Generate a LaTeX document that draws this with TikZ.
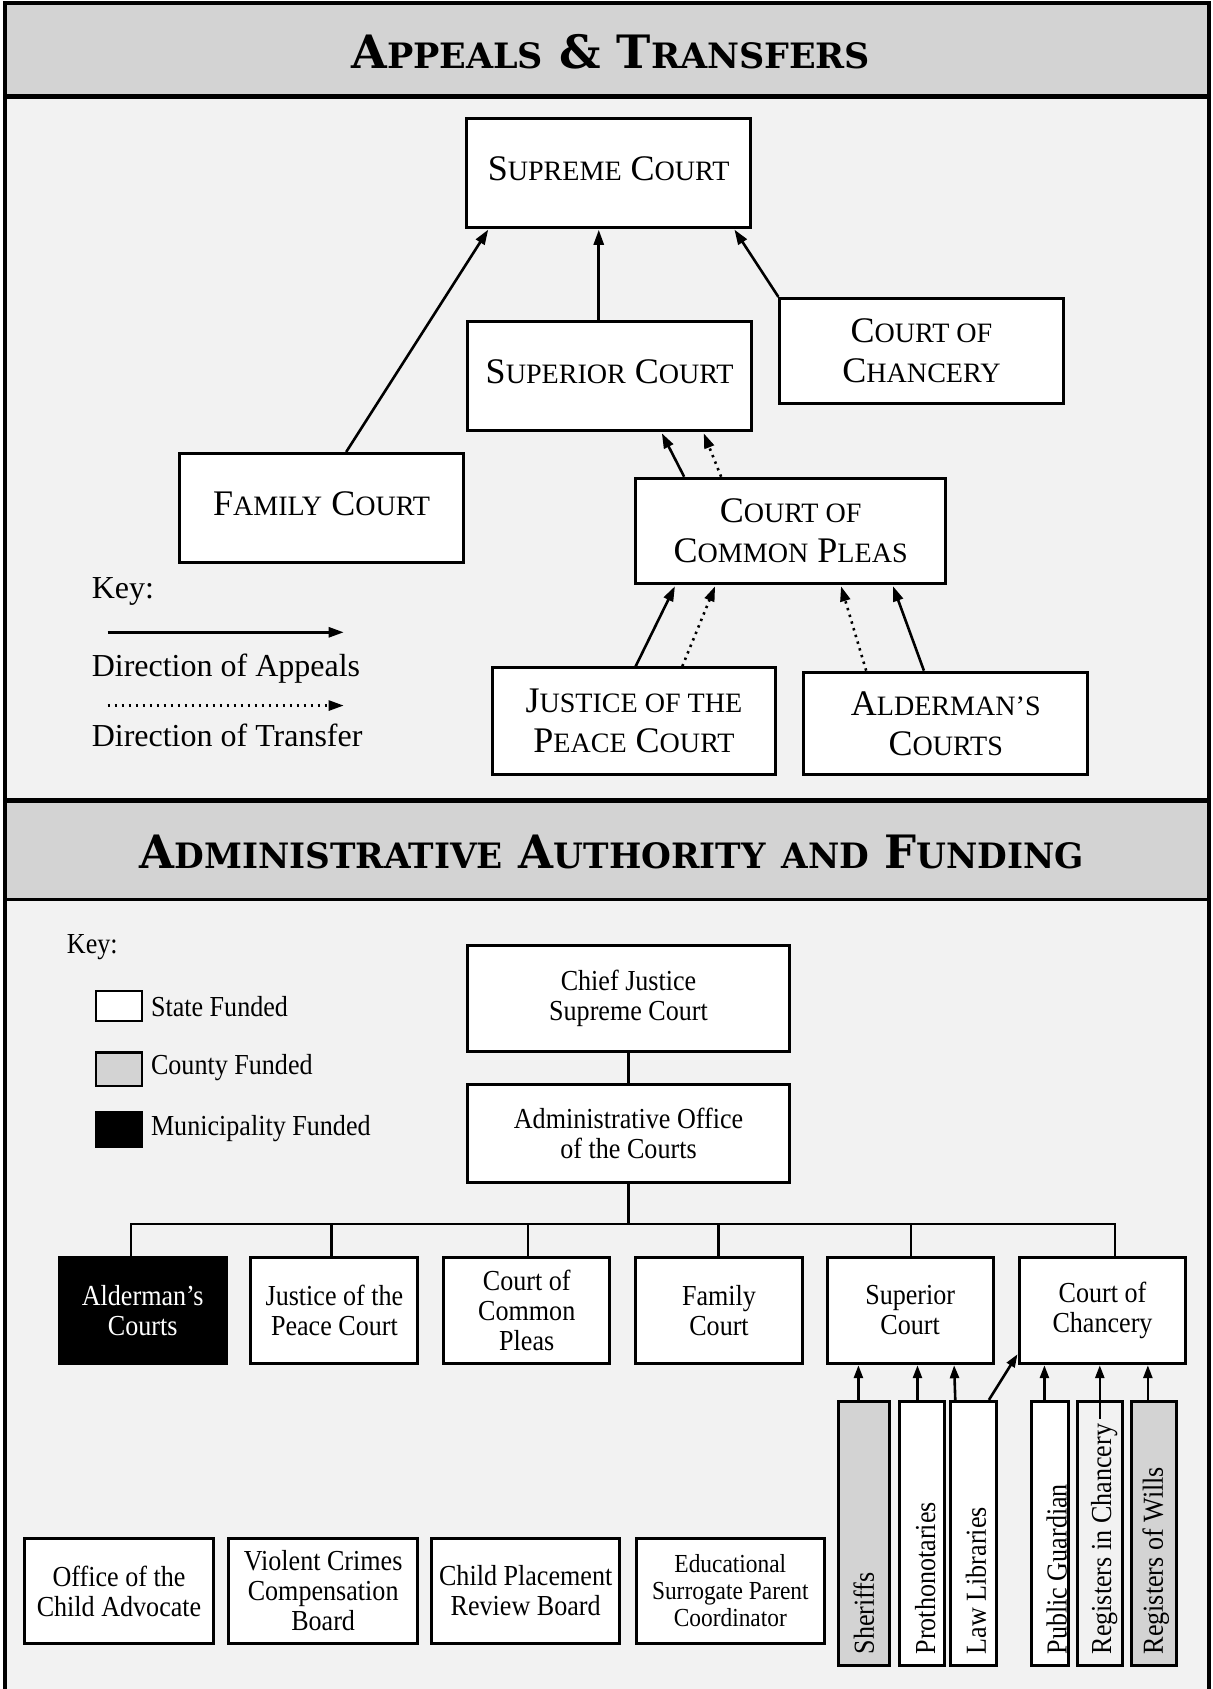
\documentclass[tikz,border=0pt]{standalone}
\usepackage{fontspec}
\usepackage{graphicx}
\setmainfont{Liberation Serif}
\newfontfamily\condfont[FakeStretch=0.9]{Liberation Serif}
\newfontfamily\headfont{DejaVu Serif}
\usetikzlibrary{arrows.meta,calc}
\definecolor{bandgray}{HTML}{D3D3D3}
\definecolor{pagebg}{HTML}{F2F2F2}
\definecolor{countygray}{HTML}{D3D3D3}
\newcommand\smc[1]{\scalebox{0.78}{#1}}
\newcommand\hsc[1]{\scalebox{0.76}{#1}}
\newcommand\lift[1]{\raisebox{8bp}{#1}}
\tikzset{
  spanbox/.style args={#1:#2:#3:#4}{minimum width={((#3)-(#1))*1.0773bp},
    minimum height={((#4)-(#2))*1.0773bp}, at={({((#1)+(#3))/2},{((#2)+(#4))/2})}},
  topbox/.style={draw, line width=3bp, fill=white, inner sep=0pt, align=center,
    font=\fontsize{36bp}{40bp}\selectfont},
  botbox/.style={draw, line width=3bp, fill=white, inner sep=0pt, align=center,
    font=\condfont\fontsize{29bp}{30bp}\selectfont},
  legbox/.style={draw, line width=2.5bp, inner sep=0pt},
  vtext/.style={rotate=90, anchor=west, inner sep=0pt,
    font=\condfont\fontsize{29bp}{30bp}\selectfont},
  keytext/.style={anchor=west, inner sep=0pt, font=\fontsize{32bp}{36bp}\selectfont},
  bkeytext/.style={anchor=west, inner sep=0pt, font=\condfont\fontsize{29bp}{30bp}\selectfont},
  headtext/.style={inner sep=0pt, font=\headfont\bfseries\fontsize{46bp}{50bp}\selectfont},
  appeal/.style={line width=2.6bp, -{Triangle[length=15bp,width=10bp]}, shorten >=1bp},
  transfer/.style={appeal, dash pattern=on 2.4bp off 4.6bp},
  link/.style={line width=2.5bp},
  uparrow/.style={line width=2.6bp, -{Triangle[length=13bp,width=9bp]}},
}
\begin{document}
\begin{tikzpicture}[x=1.0773bp, y=-1.0773bp]
\useasboundingbox (0,0) rectangle (1126,1568);
% backgrounds and frame
\fill[pagebg] (5,3) rectangle (1122,1568);
\fill[bandgray] (5,3) rectangle (1122,90);
\fill[bandgray] (5,743) rectangle (1122,835);
\draw[line width=5bp] (5,90) -- (1122,90);
\draw[line width=5bp] (5,743) -- (1122,743);
\draw[line width=3bp] (5,835) -- (1122,835);
\draw[line width=4bp] (5,1575) -- (5,3) -- (1122,3) -- (1122,1575);

% headings
\node[headtext] (h1) at (567,48) {A\hsc{PPEALS} \& T\hsc{RANSFERS}};
\node[headtext, xscale=0.98] (h2) at (568,791) {A\hsc{DMINISTRATIVE} A\hsc{UTHORITY} \hsc{AND} F\hsc{UNDING}};

% ---------- Appeals & Transfers ----------
\node[topbox, spanbox=433:110:697:211] (sup) {\lift{S\smc{UPREME} C\smc{OURT}}};
\node[topbox, spanbox=434:298:698:400] (supr) {\lift{S\smc{UPERIOR} C\smc{OURT}}};
\node[topbox, spanbox=724:277:987:375] (chan) {C\smc{OURT OF}\\C\smc{HANCERY}};
\node[topbox, spanbox=167:421:430:522] (fam) {\lift{F\smc{AMILY} C\smc{OURT}}};
\node[topbox, spanbox=590:444:878:542] (ccp) {C\smc{OURT OF}\\C\smc{OMMON} P\smc{LEAS}};
\node[topbox, spanbox=457:620:720:719] (jp) {J\smc{USTICE OF THE}\\P\smc{EACE} C\smc{OURT}};
\node[topbox, spanbox=746:624:1010:719] (ald) {A\smc{LDERMAN’S}\\C\smc{OURTS}};

\draw[appeal] ($(fam.north west)!0.586!(fam.north east)$) -- ($(sup.south west)!0.083!(sup.south east)$);
\coordinate (t1) at ($(supr.north west)!0.462!(supr.north east)$);
\draw[appeal] (t1) -- (t1 |- sup.south);
\draw[appeal] (chan.north west) -- ($(sup.south west)!0.936!(sup.south east)$);
\draw[appeal] ($(ccp.north west)!0.16!(ccp.north east)$) -- ($(supr.south west)!0.68!(supr.south east)$);
\draw[transfer] ($(ccp.north west)!0.278!(ccp.north east)$) -- ($(supr.south west)!0.826!(supr.south east)$);
\draw[appeal] ($(jp.north west)!0.506!(jp.north east)$) -- ($(ccp.south west)!0.132!(ccp.south east)$);
\draw[transfer] ($(jp.north west)!0.669!(jp.north east)$) -- ($(ccp.south west)!0.26!(ccp.south east)$);
\draw[transfer] ($(ald.north west)!0.223!(ald.north east)$) -- ($(ccp.south west)!0.66!(ccp.south east)$);
\draw[appeal] ($(ald.north west)!0.424!(ald.north east)$) -- ($(ccp.south west)!0.826!(ccp.south east)$);

% key
\node[keytext] (key1) at (85,549) {Key:};
\coordinate (ka1) at (100,587);
\coordinate (ka2) at (320,587);
\draw[appeal] (ka1) -- (ka2);
\node[keytext] (dapp) at (85,621) {Direction of Appeals};
\coordinate (kt1) at (100,655);
\coordinate (kt2) at (320,655);
\draw[transfer] (kt1) -- (kt2);
\node[keytext] (dtr) at (85,683) {Direction of Transfer};

% ---------- Administrative Authority and Funding ----------
\node[bkeytext] (key2) at (62,879) {Key:};
\node[legbox, fill=white, spanbox=89:920:132:948] (lstate) {};
\node[legbox, fill=countygray, spanbox=89:977:132:1008] (lcounty) {};
\node[legbox, fill=black, spanbox=89:1033:132:1065] (lmuni) {};
\node[bkeytext] (tstate) at (140,934) {State Funded};
\node[bkeytext] (tcounty) at (140,991) {County Funded};
\node[bkeytext] (tmuni) at (140,1048) {Municipality Funded};

\node[botbox, spanbox=434:878:733:976] (cj) {Chief Justice\\Supreme Court};
\node[botbox, spanbox=434:1007:733:1098] (aoc) {Administrative Office\\of the Courts};
\draw[link] (cj.south) -- (aoc.north);

\node[botbox, fill=black, text=white, spanbox=55:1167:210:1266] (bald) {Alderman’s\\Courts};
\node[botbox, spanbox=233:1167:388:1266] (bjp) {Justice of the\\Peace Court};
\node[botbox, spanbox=412:1167:566:1266] (bccp) {Court of\\Common\\Pleas};
\node[botbox, spanbox=590:1167:745:1266] (bfam) {Family\\Court};
\node[botbox, spanbox=768:1167:922:1266] (bsup) {Superior\\Court};
\node[botbox, spanbox=946:1167:1101:1266] (bchan) {Court of\\Chancery};

\coordinate (busy) at ($(aoc.south)+(0,37)$);
\coordinate (d1) at ($(bald.north west)!0.432!(bald.north east)$);
\coordinate (d2) at ($(bjp.north west)!0.484!(bjp.north east)$);
\coordinate (d3) at ($(bccp.north west)!0.506!(bccp.north east)$);
\coordinate (d4) at ($(bfam.north west)!0.497!(bfam.north east)$);
\coordinate (d5) at ($(bsup.north west)!0.506!(bsup.north east)$);
\coordinate (d6) at ($(bchan.north west)!0.574!(bchan.north east)$);
\draw[link] (aoc.south) -- (busy);
\draw[link, line cap=rect] (d1 |- busy) -- (d6 |- busy);
\foreach \d in {d1,d2,d3,d4,d5,d6} { \draw[link] (\d |- busy) -- (\d); }

% offices under the courts
\node[botbox, fill=countygray, spanbox=778:1301:826:1546] (sher) {};
\node[botbox, spanbox=835:1301:877:1546] (proth) {};
\node[botbox, spanbox=882:1301:925:1546] (lawlib) {};
\node[botbox, spanbox=958:1301:992:1546] (pubg) {};
\node[botbox, fill=pagebg, spanbox=1000:1301:1042:1546] (regch) {};
\node[botbox, fill=countygray, spanbox=1050:1301:1092:1546] (regw) {};
\node[vtext] (tsher) at (802,1536) {Sheriffs};
\node[vtext] (tproth) at (859,1536) {Prothonotaries};
\node[vtext] (tlawlib) at (906,1536) {Law Libraries};
\node[vtext] (tpubg) at (981,1536) {Public Guardian};
\node[vtext] (tregch) at (1025,1536) {Registers in Chancery};
\node[vtext] (tregw) at (1073,1536) {Registers of Wills};

\coordinate (s1) at ($(sher.north west)!0.4!(sher.north east)$);
\coordinate (s2) at ($(proth.north west)!0.405!(proth.north east)$);
\coordinate (s3) at ($(lawlib.north west)!0.136!(lawlib.north east)$);
\coordinate (s4) at ($(lawlib.north west)!0.818!(lawlib.north east)$);
\coordinate (s5) at ($(pubg.north west)!0.353!(pubg.north east)$);
\coordinate (s6) at ($(regch.north)!0.07!(regch.south)$);
\coordinate (s7) at ($(regw.north west)!0.38!(regw.north east)$);
\draw[uparrow] (s1) -- (s1 |- bsup.south);
\draw[uparrow] (s2) -- (s2 |- bsup.south);
\draw[uparrow] (s3) -- ($(bsup.south west)!0.76!(bsup.south east)$);
\draw[uparrow] (s4) -- ($(bchan.south west)!0.1!(bchan.north west)$);
\draw[uparrow] (s5) -- (s5 |- bchan.south);
\draw[uparrow] (s6) -- (s6 |- bchan.south);
\draw[uparrow] (s7) -- (s7 |- bchan.south);

% bottom row
\node[botbox, spanbox=23:1428:198:1526] (oca) {Office of the\\Child Advocate};
\node[botbox, spanbox=212:1428:388:1526] (vccb) {Violent Crimes\\Compensation\\Board};
\node[botbox, spanbox=401:1428:575:1526] (cprb) {Child Placement\\Review Board};
\node[botbox, font=\condfont\fontsize{26bp}{27bp}\selectfont, spanbox=591:1428:765:1526] (espc) {Educational\\Surrogate Parent\\Coordinator};
\end{tikzpicture}
\end{document}
